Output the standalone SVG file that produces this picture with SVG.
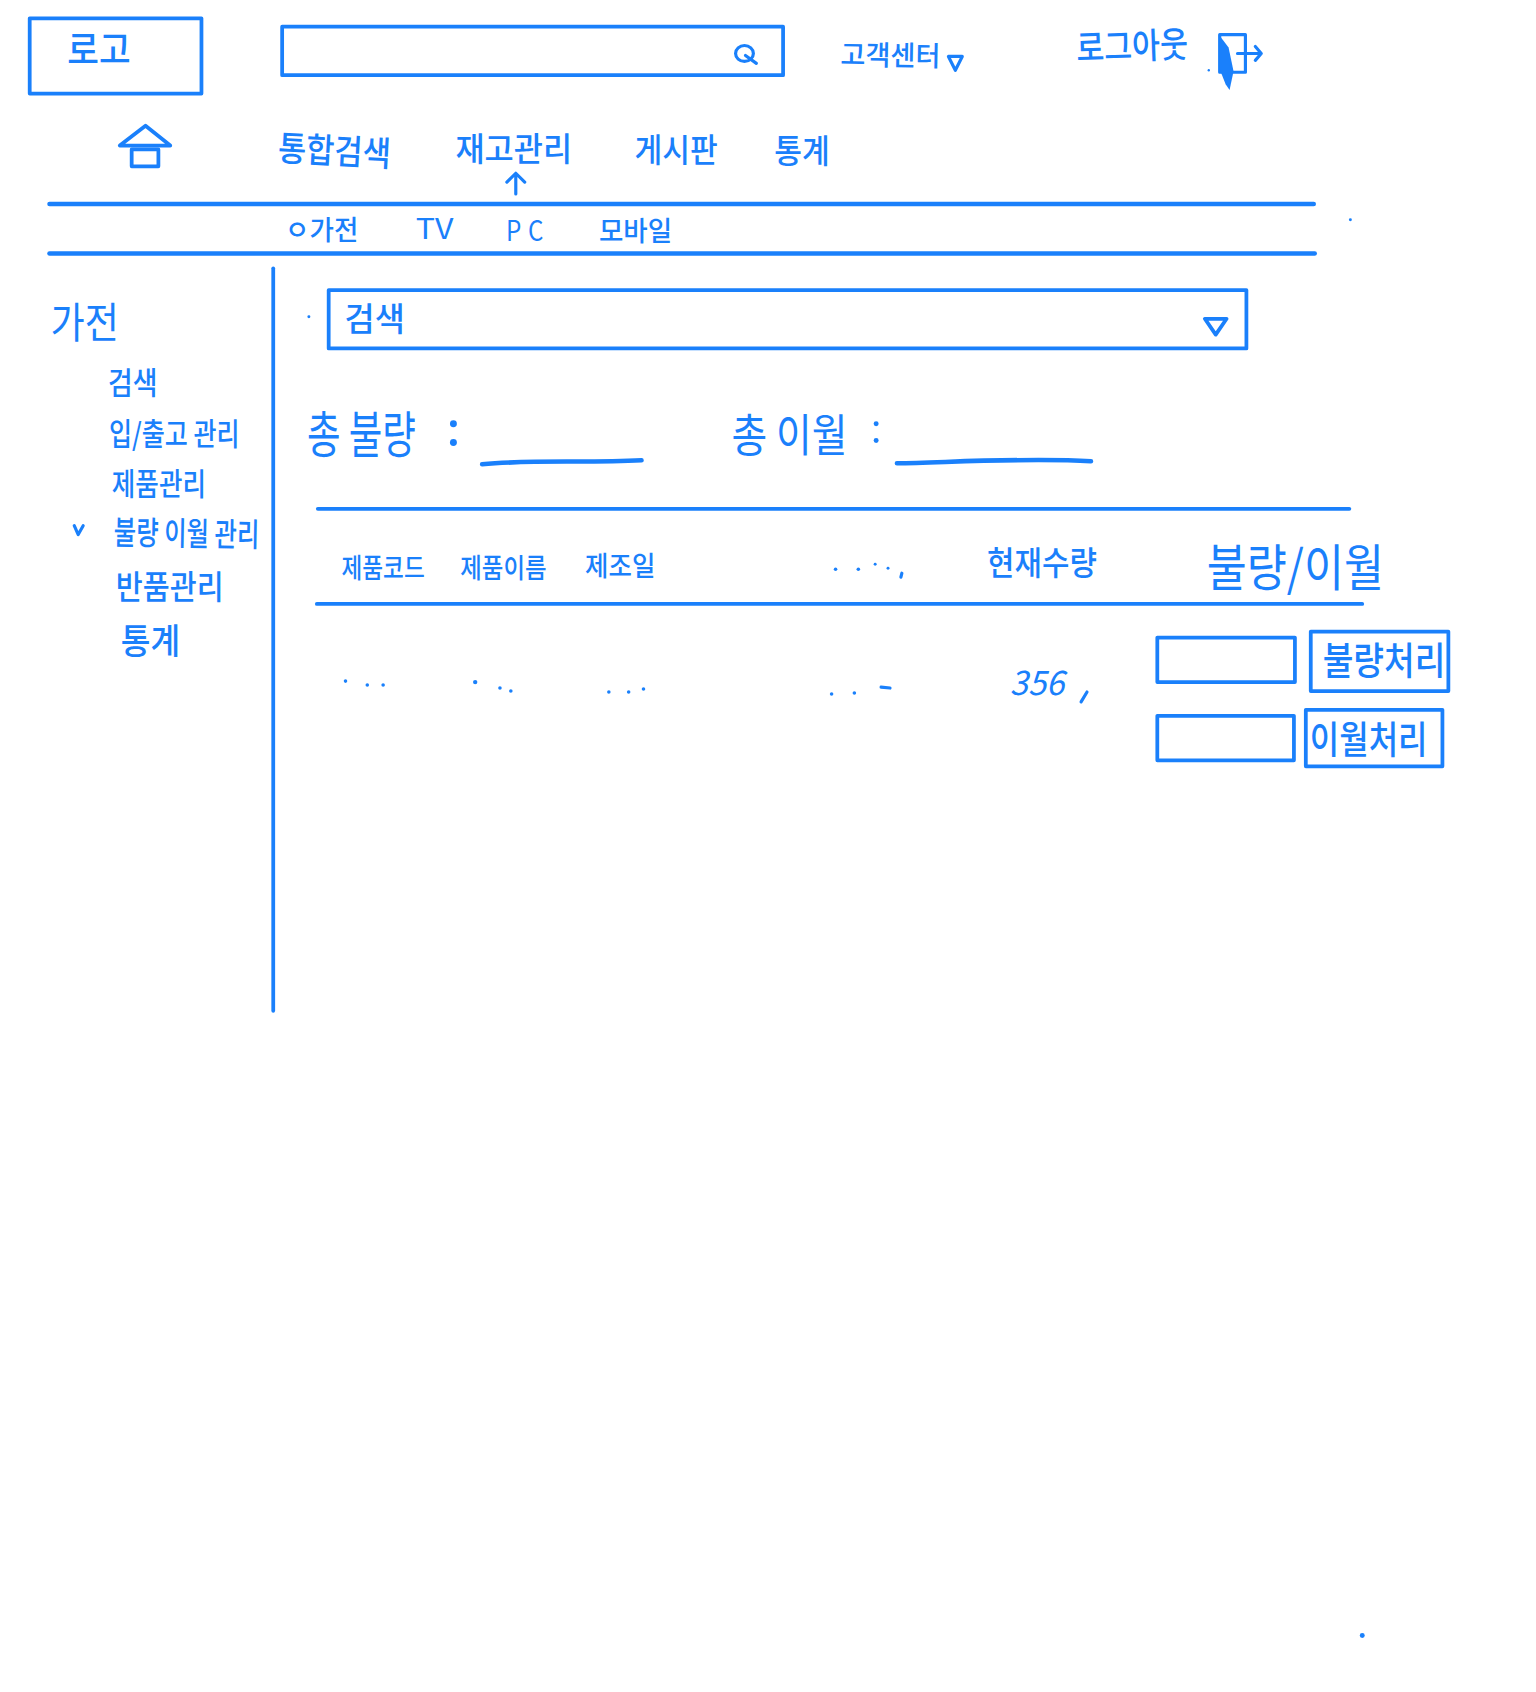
<svg xmlns="http://www.w3.org/2000/svg" width="1536" height="1692" viewBox="0 0 1536 1692">
<style>
text{font-family:"Noto Sans CJK KR","Noto Sans",sans-serif;fill:#1a80fb;dominant-baseline:central;font-weight:500}
.l{font-weight:400}
.b{fill:none;stroke:#1a80fb;stroke-width:3.800;stroke-linejoin:round;stroke-linecap:round}
.m{fill:none;stroke:#1a80fb;stroke-width:4.600;stroke-linejoin:round;stroke-linecap:round}
.t{fill:none;stroke:#1a80fb;stroke-width:3.200;stroke-linejoin:round;stroke-linecap:round}
.d{fill:#1a80fb}
</style>
<rect width="1536" height="1692" fill="#ffffff"/>
<g id="page" transform="scale(0.99)">
<g id="logo"><rect class="b" x="30" y="18.500" width="173.500" height="76"/><text x="68" y="47" font-size="38" textLength="64" lengthAdjust="spacingAndGlyphs">로고</text></g>
<g id="search-bar"><rect class="b" x="285" y="27" width="506" height="49"/><ellipse class="t" cx="752" cy="54" rx="9" ry="8"/><path class="t" d="M753 56L764 64"/></g>
<g id="customer-center"><text x="849" y="53" font-size="28" textLength="101" lengthAdjust="spacingAndGlyphs" transform="rotate(1 849 53)">고객센터</text><path class="t" d="M958 57H972L965 71Z"/></g>
<g id="logout"><text x="1087" y="46" font-size="36" textLength="113" lengthAdjust="spacingAndGlyphs" transform="rotate(-2 1087 46)">로그아웃</text><rect class="t" x="1232" y="35" width="26" height="38"/><path class="d" d="M1232 36L1241 48L1246 72L1242 91L1238 85L1232 70Z"/><path class="t" d="M1250 54H1274M1268 47L1274 54L1268 61"/><circle class="d" cx="1221" cy="71" r="1.200"/></g>
<g id="home"><path class="b" d="M147 127L121 147H172Z"/><rect class="b" x="133" y="151" width="27" height="17"/></g>
<g id="nav-search"><text x="281" y="147" font-size="35" textLength="114" lengthAdjust="spacingAndGlyphs" transform="rotate(3 281 147)">통합검색</text></g>
<g id="nav-stock"><text x="460" y="148" font-size="33" textLength="118" lengthAdjust="spacingAndGlyphs">재고관리</text></g>
<g id="nav-board"><text x="641" y="149" font-size="33" textLength="84" lengthAdjust="spacingAndGlyphs">게시판</text></g>
<g id="nav-stats"><text x="782" y="150" font-size="33" textLength="56" lengthAdjust="spacingAndGlyphs">통계</text></g>
<g id="sub-appliance"><text x="288" y="230" font-size="28" textLength="74" lengthAdjust="spacingAndGlyphs">ㅇ가전</text></g>
<g id="sub-tv"><text x="420" y="229" font-size="28" class="l" textLength="38" lengthAdjust="spacingAndGlyphs">TV</text></g>
<g id="sub-pc"><text x="511" y="231" font-size="28" class="l" textLength="45" lengthAdjust="spacingAndGlyphs" letter-spacing="8">PC</text></g>
<g id="sub-mobile"><text x="605" y="231" font-size="28" textLength="74" lengthAdjust="spacingAndGlyphs">모바일</text></g>
<g id="side-title"><text x="51" y="323" font-size="42" class="l" textLength="69" lengthAdjust="spacingAndGlyphs">가전</text></g>
<g id="side-items">
<text x="109" y="384" font-size="31" textLength="50" lengthAdjust="spacingAndGlyphs">검색</text>
<text x="110" y="436" font-size="31" textLength="132" lengthAdjust="spacingAndGlyphs">입/출고 관리</text>
<text x="113" y="486" font-size="31" textLength="95" lengthAdjust="spacingAndGlyphs">제품관리</text>
<path class="t" d="M75 531L79 540L84 531"/>
<text x="115" y="535" font-size="33" textLength="147" lengthAdjust="spacingAndGlyphs" transform="rotate(1 115 535)">불량 이월 관리</text>
<text x="117" y="590" font-size="33" textLength="109" lengthAdjust="spacingAndGlyphs">반품관리</text>
<text x="122" y="645" font-size="36" textLength="60" lengthAdjust="spacingAndGlyphs">통계</text>
</g>
<g id="dropdown"><rect class="b" x="332" y="293" width="927" height="59"/><text x="348" y="320" font-size="33" textLength="61" lengthAdjust="spacingAndGlyphs">검색</text><path class="b" d="M1217 322H1239L1228 338Z"/><circle class="d" cx="312" cy="320" r="1.500"/></g>
<g id="total-defect"><text x="310" y="436" font-size="50" class="l" textLength="110" lengthAdjust="spacingAndGlyphs">총 불량</text><circle class="d" cx="458" cy="428" r="3.500"/><circle class="d" cx="458" cy="447" r="3.500"/><path class="m" d="M487 469C540 464 590 468 648 465"/></g>
<g id="total-transfer"><text x="739" y="436" font-size="46" class="l" textLength="117" lengthAdjust="spacingAndGlyphs">총 이월</text><circle class="d" cx="885" cy="428" r="2.500"/><circle class="d" cx="885" cy="445" r="2.500"/><path class="m" d="M906 468C960 467 1040 462 1102 466"/></g>
<g id="table-head">
<text x="345" y="572" font-size="28" textLength="84" lengthAdjust="spacingAndGlyphs">제품코드</text>
<text x="465" y="572" font-size="28" textLength="87" lengthAdjust="spacingAndGlyphs">제품이름</text>
<text x="591" y="570" font-size="28" textLength="71" lengthAdjust="spacingAndGlyphs">제조일</text>
<circle class="d" cx="844" cy="575" r="1.800"/><circle class="d" cx="867" cy="575" r="1.800"/><circle class="d" cx="884" cy="570" r="1.500"/><circle class="d" cx="897" cy="574" r="1.500"/><path class="t" d="M911 579L910 583"/>
<text x="997" y="566" font-size="33" textLength="111" lengthAdjust="spacingAndGlyphs">현재수량</text>
<text x="1219" y="570" font-size="50" class="l" textLength="179" lengthAdjust="spacingAndGlyphs">불량/이월</text>
</g>
<g id="table-row">
<circle class="d" cx="349" cy="688" r="1.800"/><circle class="d" cx="371" cy="692" r="1.800"/><circle class="d" cx="387" cy="692" r="1.800"/>
<circle class="d" cx="480" cy="689" r="2.200"/><circle class="d" cx="505" cy="695" r="1.800"/><circle class="d" cx="516" cy="698" r="1.800"/>
<circle class="d" cx="615" cy="699" r="1.800"/><circle class="d" cx="635" cy="699" r="1.800"/><circle class="d" cx="650" cy="696" r="1.800"/>
<circle class="d" cx="840" cy="701" r="1.800"/><circle class="d" cx="863" cy="700" r="1.800"/><path class="t" d="M890 694L899 695"/>
<text x="1020" y="687" font-size="34" class="l" textLength="55" lengthAdjust="spacingAndGlyphs" font-style="italic">356</text><path class="t" d="M1092 709L1098 699"/>
</g>
<g id="defect-input"><rect class="b" x="1169" y="644" width="139" height="45"/></g>
<g id="defect-button"><rect class="b" x="1324" y="638" width="139" height="60"/><text x="1336" y="664" font-size="38" textLength="124" lengthAdjust="spacingAndGlyphs">불량처리</text></g>
<g id="transfer-input"><rect class="b" x="1169" y="723" width="138" height="45"/></g>
<g id="transfer-button"><rect class="b" x="1319" y="717" width="138" height="57"/><text x="1323" y="744" font-size="38" textLength="119" lengthAdjust="spacingAndGlyphs">이월처리</text></g>
<g id="connectors">
<path class="t" d="M521 196V175M512 184L521 175L530 184"/>
<path class="m" d="M50 206H1327"/>
<path class="m" d="M50 256H1328"/>
<path class="b" d="M276 271V1021"/>
<path class="b" d="M321 514H1363"/>
<path class="b" d="M320 610H1376"/>
</g>
<g id="specks"><circle class="d" cx="1364" cy="222" r="1.500"/><circle class="d" cx="1376" cy="1652" r="2.500"/></g>
</g>
</svg>
